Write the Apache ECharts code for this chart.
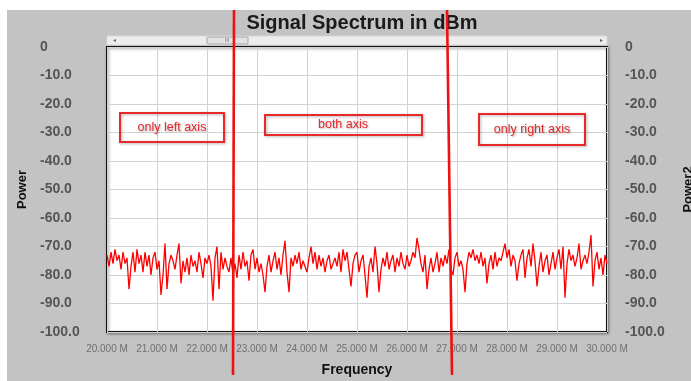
<!DOCTYPE html>
<html>
<head>
<meta charset="utf-8">
<script src="https://cdn.jsdelivr.net/npm/echarts@6/dist/echarts.min.js"></script>
<style>
html,body{margin:0;padding:0;background:#fff;}
#chart{width:691px;height:381px;}
</style>
</head>
<body>
<div id="chart"></div>
<script>
var titleText = "Signal Spectrum in dBm";
var xAxisName = "Frequency";
var yLeftName = "Power";
var yRightName = "Power2";
var xTickLabels = ["20.000 M","21.000 M","22.000 M","23.000 M","24.000 M","25.000 M","26.000 M","27.000 M","28.000 M","29.000 M","30.000 M"];
var xTickValues = [20,21,22,23,24,25,26,27,28,29,30];
var yTickValues = [0,-10,-20,-30,-40,-50,-60,-70,-80,-90,-100];
var yTickLabels = ["0","-10.0","-20.0","-30.0","-40.0","-50.0","-60.0","-70.0","-80.0","-90.0","-100.0"];
var startFreq = 20.0;
var freqStep = 0.04;
var powerValues = [
-73,-77,-72,-76,-71, -75,-73,-78,-72,-76, -74,-85,-77,-72,-79, -71,-76,-73,-79,-72,
-77,-73,-80,-74,-72, -78,-75,-87,-80,-69, -85,-76,-73,-75,-78, -73,-69,-83,-75,-79,
-74,-80,-73,-77,-75, -79,-72,-76,-81,-74, -76,-73,-77,-89,-74, -70,-85,-72,-78,-74,
-77,-79,-74,-80,-76, -81,-73,-78,-72,-77, -75,-82,-73,-71,-78, -74,-79,-76,-80,-86,
-77,-73,-79,-75,-72, -78,-74,-80,-73,-68, -79,-86,-74,-77,-73, -76,-72,-78,-75,-77,
-79,-74,-70,-76,-72, -78,-73,-77,-74,-79, -75,-73,-78,-76,-74, -77,-72,-79,-71,-75,
-72,-78,-84,-76,-73, -72,-79,-75,-73,-80, -88,-77,-74,-79,-70, -76,-86,-78,-74,-77,
-72,-78,-75,-73,-79, -74,-77,-72,-76,-78, -73,-77,-75,-72,-74, -67,-71,-76,-79,-73,
-85,-78,-74,-79,-76, -72,-79,-74,-77,-73, -76,-71,-78,-80,-74, -72,-77,-75,-78,-86,
-76,-72,-74,-71,-75, -73,-76,-72,-77,-74, -83,-76,-73,-78,-72, -77,-74,-75,-72,-69,
-74,-71,-77,-73,-75, -82,-76,-73,-71,-81, -74,-71,-77,-69,-75, -84,-77,-72,-79,-75,
-73,-80,-76,-72,-78, -74,-71,-78,-70,-88, -76,-71,-75,-73,-77, -74,-69,-78,-75,-73,
-76,-72,-66,-84,-75, -72,-78,-74,-80,-73, -76
];
var annotations = ["only left axis","both axis","only right axis"];

var seriesData = powerValues.map(function(v,i){ return [startFreq + i*freqStep, v]; });
function xLabel(v){ var i = xTickValues.indexOf(Math.round(v)); return i>=0 ? xTickLabels[i] : ''; }
function yLabel(v){ var i = yTickValues.indexOf(Math.round(v)); return i>=0 ? yTickLabels[i] : ''; }

var FF = 'Arial, "Liberation Sans", sans-serif';
var chart = echarts.init(document.getElementById('chart'), null, {renderer:'canvas'});
var annoText = {fontSize:12.5,fontFamily:FF,fill:'#e8282a',align:'center',verticalAlign:'middle', textShadowColor:'rgba(0,0,0,0.3)', textShadowBlur:2, textShadowOffsetX:1, textShadowOffsetY:1};
var annoBox = {fill:'rgba(0,0,0,0)', stroke:'#e8282a', lineWidth:2, shadowColor:'rgba(0,0,0,0.3)', shadowBlur:3, shadowOffsetX:1, shadowOffsetY:1};
chart.setOption({
  animation:false,
  backgroundColor:'#ffffff',
  title:{
    text:titleText, left:357, top:8, textAlign:'center',
    textStyle:{fontFamily:FF, fontSize:20, fontWeight:'bold', color:'#1a1a1a'}
  },
  grid:{
    left:107, right:84, top:47, bottom:49, show:true, containLabel:false, outerBoundsMode:'none',
    backgroundColor:'#ffffff', borderColor:'#111', borderWidth:2,
    shadowColor:'rgba(0,0,0,0.35)', shadowBlur:3, shadowOffsetX:1, shadowOffsetY:1
  },
  xAxis:{
    type:'value', min:20, max:30, interval:1,
    name:xAxisName, nameLocation:'middle', nameGap:31,
    nameTextStyle:{fontFamily:FF, fontSize:14, fontWeight:'bold', color:'#111'},
    axisLine:{show:false}, axisTick:{show:false},
    axisLabel:{formatter:xLabel, margin:12, fontFamily:FF, fontSize:10, color:'#707070'},
    splitLine:{show:true, lineStyle:{color:'#d2d2d2', width:1}}
  },
  yAxis:[
    {
      type:'value', min:-100, max:0, interval:10, position:'left',
      name:yLeftName, nameLocation:'middle', nameGap:78, nameRotate:90,
      nameTextStyle:{fontFamily:FF, fontSize:13, fontWeight:'bold', color:'#111'},
      axisLine:{show:false}, axisTick:{show:false},
      axisLabel:{formatter:yLabel, align:'left', margin:67, fontFamily:FF, fontSize:14, fontWeight:'bold', color:'#555'},
      splitLine:{show:true, lineStyle:{color:'#d2d2d2', width:1}}
    },
    {
      type:'value', min:-100, max:0, interval:10, position:'right',
      name:yRightName, nameLocation:'middle', nameGap:75, nameRotate:90,
      nameTextStyle:{fontFamily:FF, fontSize:13, fontWeight:'bold', color:'#111'},
      axisLine:{show:false}, axisTick:{show:false},
      axisLabel:{formatter:yLabel, align:'left', margin:18, fontFamily:FF, fontSize:14, fontWeight:'bold', color:'#555'},
      splitLine:{show:false}
    }
  ],
  series:[{
    type:'line', yAxisIndex:0, data:seriesData, showSymbol:false, symbol:'none',
    lineStyle:{color:'#ff0000', width:1.3}, z:3
  }],
  graphic:[
    {type:'rect', z:-10, silent:true, shape:{x:7,y:10,width:684,height:371}, style:{fill:'#c3c3c3'}},
    {type:'rect', z:1, shape:{x:107,y:36,width:500,height:9}, style:{fill:'#ededed', stroke:'#d6d6d6', lineWidth:1}},
    {type:'rect', z:2, shape:{x:207,y:37,width:41,height:7,r:1}, style:{fill:'#e2e2e2', stroke:'#a8a8a8', lineWidth:1}},
    {type:'text', z:3, style:{x:227,y:40.5,text:'III',fontSize:6,fill:'#888',align:'center',verticalAlign:'middle'}},
    {type:'text', z:3, style:{x:114,y:40.5,text:'◂',fontSize:6,fill:'#666',align:'center',verticalAlign:'middle'}},
    {type:'text', z:3, style:{x:601,y:40.5,text:'▸',fontSize:6,fill:'#666',align:'center',verticalAlign:'middle'}},
    {type:'rect', z:50, shape:{x:120,y:113,width:104,height:29}, style:annoBox},
    {type:'text', z:51, style:Object.assign({x:172,y:128,text:annotations[0]}, annoText)},
    {type:'rect', z:50, shape:{x:265,y:115,width:157,height:20}, style:annoBox},
    {type:'text', z:51, style:Object.assign({x:343,y:125,text:annotations[1]}, annoText)},
    {type:'rect', z:50, shape:{x:479,y:114,width:106,height:31}, style:annoBox},
    {type:'text', z:51, style:Object.assign({x:532,y:130,text:annotations[2]}, annoText)},
    {type:'line', z:100, shape:{x1:234,y1:10,x2:233,y2:375}, style:{stroke:'#ee1111', lineWidth:2.6}},
    {type:'line', z:100, shape:{x1:447,y1:10,x2:452,y2:375}, style:{stroke:'#ee1111', lineWidth:2.6}}
  ]
});
</script>
</body>
</html>
